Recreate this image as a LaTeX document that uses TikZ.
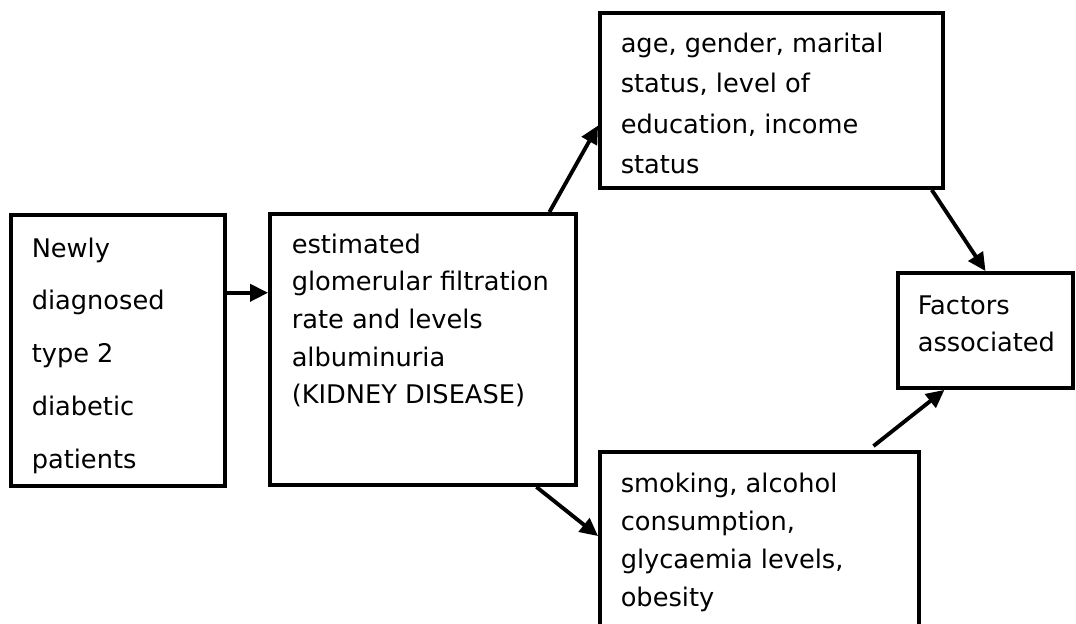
\documentclass[tikz,border=0pt]{standalone}
\usepackage{fontspec}
\newfontfamily\diagfont{DejaVu Sans}
\usepackage{tikz}
\usetikzlibrary{arrows.meta, calc}

\begin{document}
\begin{tikzpicture}[
  box/.style={draw, line width=1.1pt, inner sep=0pt},
  note/.style={anchor=north west, inner sep=0pt, align=left},
  link/.style={line width=1.1pt, -{Triangle[length=0.18cm, width=0.17cm]}}
]
  \useasboundingbox (0,0) rectangle (10.76,6.23);
  \clip (0,0) rectangle (10.76,6.23);

  \node[box, minimum width=2.14cm, minimum height=2.71cm] (patients) at (1.18, 2.725) {};
  \node[box, minimum width=3.06cm, minimum height=2.71cm] (kidney) at (4.23, 2.735) {};
  \node[box, minimum width=3.43cm, minimum height=1.75cm] (socio) at (7.715, 5.225) {};
  \node[box, minimum width=3.19cm, minimum height=2.08cm] (lifestyle) at (7.595, 0.67) {};
  \node[box, minimum width=1.75cm, minimum height=1.15cm] (factors) at (9.855, 2.925) {};

  \node[note, font={\diagfont\fontsize{7.3}{15}\selectfont}] (patientstext) at ([shift={(0.22,-0.24)}]patients.north west) {Newly\\diagnosed\\type 2\\diabetic\\patients};
  \node[note, font={\diagfont\fontsize{7.3}{10.7}\selectfont}] (kidneytext) at ([shift={(0.23,-0.21)}]kidney.north west) {estimated\\glomerular filtration\\rate and levels\\albuminuria\\(KIDNEY DISEASE)};
  \node[note, font={\diagfont\fontsize{7.3}{11.5}\selectfont}] (sociotext) at ([shift={(0.22,-0.21)}]socio.north west) {age, gender, marital\\status, level of\\education, income\\status};
  \node[note, font={\diagfont\fontsize{7.3}{10.8}\selectfont}] (lifestyletext) at ([shift={(0.22,-0.22)}]lifestyle.north west) {smoking, alcohol\\consumption,\\glycaemia levels,\\obesity};
  \node[note, font={\diagfont\fontsize{7.3}{10.5}\selectfont}] (factorstext) at ([shift={(0.21,-0.24)}]factors.north west) {Factors\\associated};

  \coordinate (a1) at ($(patients.north east)!0.29!(patients.south east)$);
  \draw[link] (a1) -- (a1 -| kidney.west);
  \draw[link] ($(kidney.north west)!0.908!(kidney.north east)$) -- ($(socio.north west)!0.64!(socio.south west)$);
  \draw[link] ($(kidney.south west)!0.866!(kidney.south east)$) -- ([yshift=-0.86cm]lifestyle.north west);
  \draw[link] ($(socio.south west)!0.962!(socio.south east)$) -- (factors.north);
  \draw[link] ($(lifestyle.north west)!0.853!(lifestyle.north east) + (0,0.04)$) -- ($(factors.south west)!0.27!(factors.south east)$);
\end{tikzpicture}
\end{document}
